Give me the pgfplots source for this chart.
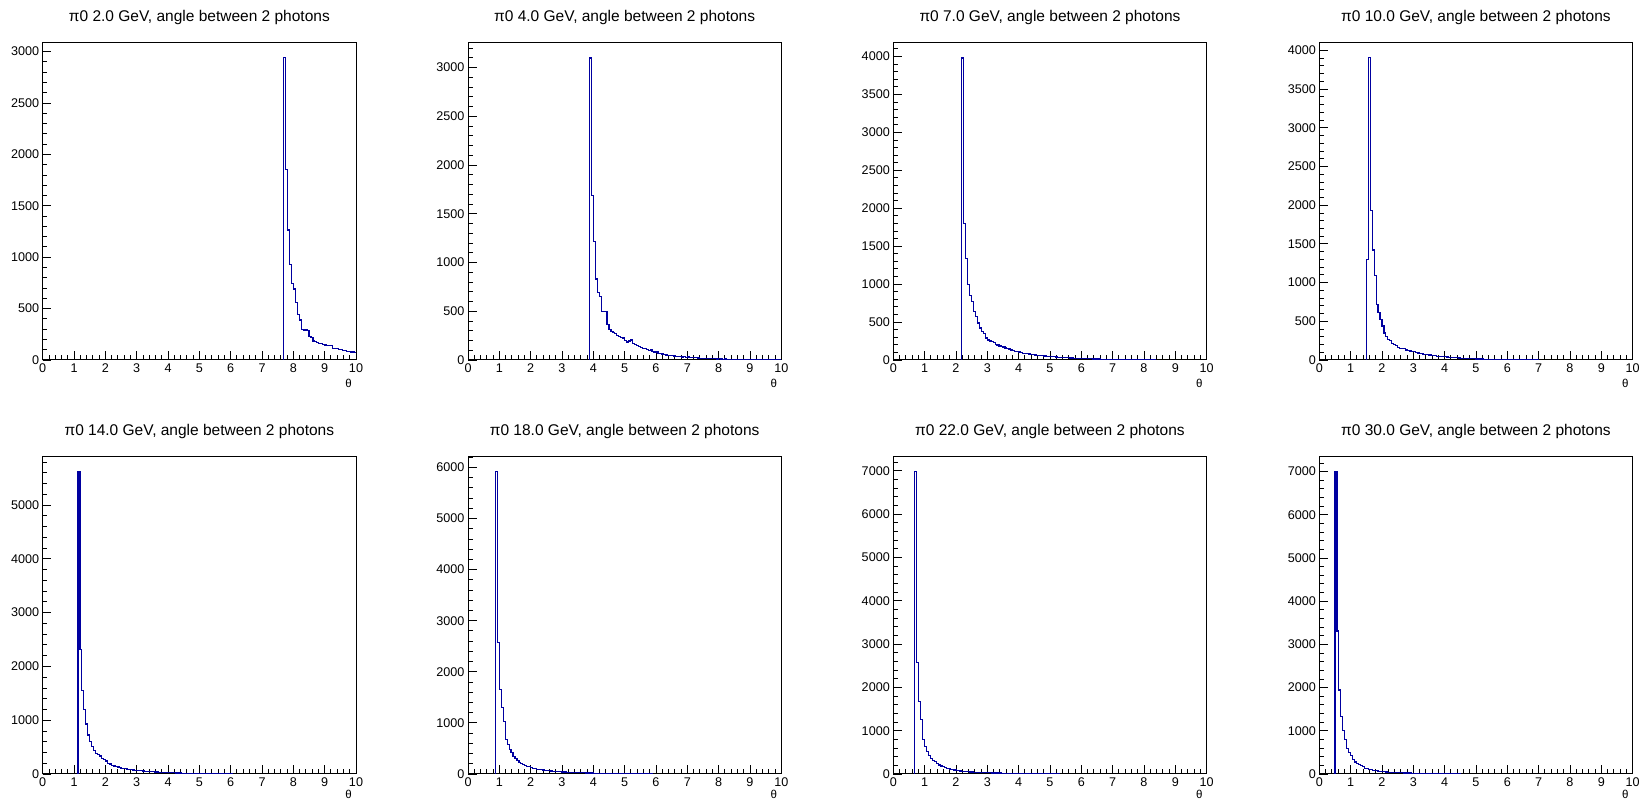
\documentclass[border=0pt]{standalone}
\usepackage{fontspec}
\setmainfont{Liberation Sans}
\usepackage{pgfplots}
\usepackage{pgfplotstable}
\pgfplotsset{compat=1.18}
\definecolor{histblue}{RGB}{0,0,160}

% opening-angle histograms (left bin edge, content), bin width 0.0625 deg
\pgfplotstableread[row sep=\\]{x y\\
7.6875 0\\ 7.6875 2940\\ 7.75 1850\\ 7.8125 1265\\ 7.875 930\\ 7.9375 746\\ 8.0 690\\ 8.0625 560\\ 8.125 440\\ 8.1875 389\\ 8.25 300\\ 8.3125 292\\ 8.375 295\\ 8.4375 290\\ 8.5 227\\ 8.5625 215\\ 8.625 185\\ 8.6875 178\\ 8.75 170\\ 8.8125 162\\ 8.875 160\\ 8.9375 150\\ 9.0 146\\ 9.0625 140\\ 9.125 139\\ 9.1875 140\\ 9.25 115\\ 9.3125 113\\ 9.375 108\\ 9.4375 104\\ 9.5 100\\ 9.5625 96\\ 9.625 90\\ 9.6875 84\\ 9.75 81\\ 9.8125 70\\ 9.875 80\\ 9.9375 75\\ 10 75\\
}\histA

\pgfplotstableread[row sep=\\]{x y\\
3.875 0\\ 3.875 3097\\ 3.9375 1690\\ 4.0 1215\\ 4.0625 830\\ 4.125 690\\ 4.1875 650\\ 4.25 500\\ 4.3125 495\\ 4.375 500\\ 4.4375 365\\ 4.5 310\\ 4.5625 290\\ 4.625 285\\ 4.6875 270\\ 4.75 255\\ 4.8125 240\\ 4.875 230\\ 4.9375 225\\ 5.0 200\\ 5.0625 185\\ 5.125 195\\ 5.1875 205\\ 5.25 170\\ 5.3125 155\\ 5.375 150\\ 5.4375 140\\ 5.5 125\\ 5.5625 120\\ 5.625 115\\ 5.6875 110\\ 5.75 100\\ 5.8125 105\\ 5.875 90\\ 5.9375 80\\ 6.0 85\\ 6.0625 70\\ 6.125 65\\ 6.1875 62\\ 6.25 58\\ 6.3125 52\\ 6.375 50\\ 6.4375 45\\ 6.5 42\\ 6.5625 40\\ 6.625 38\\ 6.6875 34\\ 6.75 36\\ 6.8125 30\\ 6.875 32\\ 6.9375 28\\ 7.0 30\\ 7.0625 25\\ 7.125 24\\ 7.1875 22\\ 7.25 23\\ 7.3125 20\\ 7.375 18\\ 7.4375 19\\ 7.5 16\\ 7.5625 17\\ 7.625 15\\ 7.6875 14\\ 7.75 15\\ 7.8125 12\\ 7.875 13\\ 7.9375 11\\ 8.0 12\\ 8.0625 10\\ 8.125 9\\ 8.1875 10\\ 8.25 8\\ 8.3125 9\\ 8.375 7\\ 8.4375 8\\ 8.5 6\\ 8.5625 7\\ 8.625 6\\ 8.6875 5\\ 8.75 6\\ 8.8125 5\\ 8.875 4\\ 8.9375 5\\ 9.0 4\\ 9.0625 5\\ 9.125 3\\ 9.1875 4\\ 9.25 3\\ 9.3125 4\\ 9.375 3\\ 9.4375 2\\ 9.5 3\\ 9.5625 2\\ 9.625 3\\ 9.6875 2\\ 9.75 2\\ 9.8125 1\\ 9.875 2\\ 9.9375 1\\ 10 1\\
}\histB

\pgfplotstableread[row sep=\\]{x y\\
2.1875 0\\ 2.1875 3980\\ 2.25 1800\\ 2.3125 1340\\ 2.375 990\\ 2.4375 850\\ 2.5 770\\ 2.5625 640\\ 2.625 572\\ 2.6875 488\\ 2.75 422\\ 2.8125 374\\ 2.875 352\\ 2.9375 290\\ 3.0 264\\ 3.0625 250\\ 3.125 240\\ 3.1875 232\\ 3.25 200\\ 3.3125 198\\ 3.375 185\\ 3.4375 176\\ 3.5 170\\ 3.5625 158\\ 3.625 154\\ 3.6875 145\\ 3.75 132\\ 3.8125 128\\ 3.875 115\\ 3.9375 110\\ 4.0 105\\ 4.0625 98\\ 4.125 90\\ 4.1875 88\\ 4.25 84\\ 4.3125 80\\ 4.375 72\\ 4.4375 68\\ 4.5 66\\ 4.5625 62\\ 4.625 60\\ 4.6875 56\\ 4.75 54\\ 4.8125 52\\ 4.875 50\\ 4.9375 47\\ 5.0 45\\ 5.0625 44\\ 5.125 42\\ 5.1875 40\\ 5.25 38\\ 5.3125 36\\ 5.375 35\\ 5.4375 32\\ 5.5 30\\ 5.5625 29\\ 5.625 27\\ 5.6875 26\\ 5.75 24\\ 5.8125 23\\ 5.875 22\\ 5.9375 21\\ 6.0 20\\ 6.0625 19\\ 6.125 18\\ 6.1875 17\\ 6.25 16\\ 6.3125 15\\ 6.375 14\\ 6.4375 13\\ 6.5 13\\ 6.5625 12\\ 6.625 11\\ 6.6875 10\\ 6.75 10\\ 6.8125 9\\ 6.875 9\\ 6.9375 8\\ 7.0 8\\ 7.0625 7\\ 7.125 7\\ 7.1875 6\\ 7.25 6\\ 7.3125 5\\ 7.375 5\\ 7.4375 5\\ 7.5 4\\ 7.5625 4\\ 7.625 4\\ 7.6875 3\\ 7.75 3\\ 7.8125 3\\ 7.875 2\\ 7.9375 2\\ 8.0 2\\ 8.0625 2\\ 8.125 1\\ 8.1875 2\\ 8.25 1\\ 8.3125 1\\ 8.375 0\\
}\histC

\pgfplotstableread[row sep=\\]{x y\\
1.5 0\\ 1.5 1300\\ 1.5625 3905\\ 1.625 1930\\ 1.6875 1420\\ 1.75 1090\\ 1.8125 720\\ 1.875 610\\ 1.9375 520\\ 2.0 440\\ 2.0625 350\\ 2.125 300\\ 2.1875 260\\ 2.25 250\\ 2.3125 215\\ 2.375 200\\ 2.4375 190\\ 2.5 160\\ 2.5625 150\\ 2.625 145\\ 2.6875 150\\ 2.75 130\\ 2.8125 125\\ 2.875 115\\ 2.9375 110\\ 3.0 105\\ 3.0625 95\\ 3.125 90\\ 3.1875 88\\ 3.25 80\\ 3.3125 75\\ 3.375 72\\ 3.4375 70\\ 3.5 65\\ 3.5625 62\\ 3.625 60\\ 3.6875 55\\ 3.75 50\\ 3.8125 48\\ 3.875 45\\ 3.9375 42\\ 4.0 40\\ 4.0625 38\\ 4.125 35\\ 4.1875 33\\ 4.25 30\\ 4.3125 31\\ 4.375 28\\ 4.4375 26\\ 4.5 24\\ 4.5625 22\\ 4.625 23\\ 4.6875 20\\ 4.75 18\\ 4.8125 17\\ 4.875 16\\ 4.9375 15\\ 5.0 14\\ 5.0625 13\\ 5.125 12\\ 5.1875 12\\ 5.25 10\\ 5.3125 10\\ 5.375 9\\ 5.4375 8\\ 5.5 8\\ 5.5625 7\\ 5.625 7\\ 5.6875 6\\ 5.75 6\\ 5.8125 5\\ 5.875 5\\ 5.9375 4\\ 6.0 4\\ 6.0625 4\\ 6.125 3\\ 6.1875 3\\ 6.25 3\\ 6.3125 2\\ 6.375 3\\ 6.4375 2\\ 6.5 2\\ 6.5625 2\\ 6.625 1\\ 6.6875 2\\ 6.75 1\\ 6.8125 1\\ 6.875 1\\ 6.9375 1\\ 7.0 0\\
}\histD

\pgfplotstableread[row sep=\\]{x y\\
1.125 0\\ 1.125 5620\\ 1.1875 2320\\ 1.25 1560\\ 1.3125 1200\\ 1.375 930\\ 1.4375 725\\ 1.5 600\\ 1.5625 510\\ 1.625 430\\ 1.6875 385\\ 1.75 360\\ 1.8125 335\\ 1.875 290\\ 1.9375 270\\ 2.0 240\\ 2.0625 200\\ 2.125 185\\ 2.1875 165\\ 2.25 150\\ 2.3125 140\\ 2.375 130\\ 2.4375 120\\ 2.5 105\\ 2.5625 100\\ 2.625 95\\ 2.6875 90\\ 2.75 80\\ 2.8125 78\\ 2.875 75\\ 2.9375 70\\ 3.0 64\\ 3.0625 60\\ 3.125 58\\ 3.1875 54\\ 3.25 50\\ 3.3125 48\\ 3.375 45\\ 3.4375 42\\ 3.5 40\\ 3.5625 38\\ 3.625 36\\ 3.6875 33\\ 3.75 32\\ 3.8125 30\\ 3.875 28\\ 3.9375 27\\ 4.0 25\\ 4.0625 24\\ 4.125 22\\ 4.1875 21\\ 4.25 20\\ 4.3125 18\\ 4.375 17\\ 4.4375 16\\ 4.5 15\\ 4.5625 14\\ 4.625 14\\ 4.6875 13\\ 4.75 12\\ 4.8125 11\\ 4.875 11\\ 4.9375 10\\ 5.0 9\\ 5.0625 9\\ 5.125 8\\ 5.1875 8\\ 5.25 7\\ 5.3125 7\\ 5.375 6\\ 5.4375 6\\ 5.5 5\\ 5.5625 5\\ 5.625 5\\ 5.6875 4\\ 5.75 4\\ 5.8125 4\\ 5.875 3\\ 5.9375 3\\ 6.0 3\\ 6.0625 0\\
}\histE

\pgfplotstableread[row sep=\\]{x y\\
0.875 0\\ 0.875 5915\\ 0.9375 2570\\ 1.0 1660\\ 1.0625 1300\\ 1.125 1020\\ 1.1875 670\\ 1.25 570\\ 1.3125 485\\ 1.375 420\\ 1.4375 340\\ 1.5 300\\ 1.5625 270\\ 1.625 230\\ 1.6875 210\\ 1.75 180\\ 1.8125 165\\ 1.875 145\\ 1.9375 140\\ 2.0 125\\ 2.0625 115\\ 2.125 105\\ 2.1875 95\\ 2.25 90\\ 2.3125 85\\ 2.375 80\\ 2.4375 72\\ 2.5 68\\ 2.5625 62\\ 2.625 58\\ 2.6875 55\\ 2.75 50\\ 2.8125 48\\ 2.875 45\\ 2.9375 42\\ 3.0 40\\ 3.0625 38\\ 3.125 36\\ 3.1875 34\\ 3.25 32\\ 3.3125 30\\ 3.375 29\\ 3.4375 27\\ 3.5 26\\ 3.5625 24\\ 3.625 23\\ 3.6875 22\\ 3.75 21\\ 3.8125 20\\ 3.875 19\\ 3.9375 18\\ 4.0 17\\ 4.0625 16\\ 4.125 15\\ 4.1875 15\\ 4.25 14\\ 4.3125 13\\ 4.375 13\\ 4.4375 12\\ 4.5 11\\ 4.5625 11\\ 4.625 10\\ 4.6875 10\\ 4.75 9\\ 4.8125 9\\ 4.875 8\\ 4.9375 8\\ 5.0 7\\ 5.0625 7\\ 5.125 6\\ 5.1875 6\\ 5.25 6\\ 5.3125 5\\ 5.375 5\\ 5.4375 5\\ 5.5 4\\ 5.5625 4\\ 5.625 4\\ 5.6875 3\\ 5.75 3\\ 5.8125 3\\ 5.875 0\\
}\histF

\pgfplotstableread[row sep=\\]{x y\\
0.6875 0\\ 0.6875 6975\\ 0.75 2570\\ 0.8125 1670\\ 0.875 1250\\ 0.9375 800\\ 1.0 630\\ 1.0625 520\\ 1.125 430\\ 1.1875 360\\ 1.25 310\\ 1.3125 280\\ 1.375 240\\ 1.4375 210\\ 1.5 185\\ 1.5625 170\\ 1.625 150\\ 1.6875 135\\ 1.75 120\\ 1.8125 105\\ 1.875 95\\ 1.9375 90\\ 2.0 80\\ 2.0625 75\\ 2.125 70\\ 2.1875 65\\ 2.25 60\\ 2.3125 56\\ 2.375 52\\ 2.4375 48\\ 2.5 45\\ 2.5625 42\\ 2.625 40\\ 2.6875 38\\ 2.75 36\\ 2.8125 34\\ 2.875 32\\ 2.9375 30\\ 3.0 28\\ 3.0625 27\\ 3.125 25\\ 3.1875 24\\ 3.25 23\\ 3.3125 22\\ 3.375 21\\ 3.4375 20\\ 3.5 19\\ 3.5625 18\\ 3.625 17\\ 3.6875 16\\ 3.75 15\\ 3.8125 15\\ 3.875 14\\ 3.9375 13\\ 4.0 12\\ 4.0625 12\\ 4.125 11\\ 4.1875 10\\ 4.25 10\\ 4.3125 9\\ 4.375 9\\ 4.4375 8\\ 4.5 8\\ 4.5625 7\\ 4.625 7\\ 4.6875 6\\ 4.75 6\\ 4.8125 5\\ 4.875 5\\ 4.9375 5\\ 5.0 4\\ 5.0625 4\\ 5.125 4\\ 5.1875 3\\ 5.25 3\\ 5.3125 0\\
}\histG

\pgfplotstableread[row sep=\\]{x y\\
0.5 0\\ 0.5 7000\\ 0.5625 3310\\ 0.625 1945\\ 0.6875 1330\\ 0.75 1000\\ 0.8125 790\\ 0.875 595\\ 0.9375 500\\ 1.0 420\\ 1.0625 330\\ 1.125 280\\ 1.1875 250\\ 1.25 225\\ 1.3125 190\\ 1.375 165\\ 1.4375 135\\ 1.5 120\\ 1.5625 110\\ 1.625 100\\ 1.6875 90\\ 1.75 80\\ 1.8125 72\\ 1.875 65\\ 1.9375 60\\ 2.0 55\\ 2.0625 50\\ 2.125 46\\ 2.1875 43\\ 2.25 40\\ 2.3125 37\\ 2.375 35\\ 2.4375 32\\ 2.5 30\\ 2.5625 28\\ 2.625 27\\ 2.6875 25\\ 2.75 24\\ 2.8125 22\\ 2.875 21\\ 2.9375 20\\ 3.0 19\\ 3.0625 18\\ 3.125 17\\ 3.1875 16\\ 3.25 15\\ 3.3125 14\\ 3.375 13\\ 3.4375 13\\ 3.5 12\\ 3.5625 11\\ 3.625 11\\ 3.6875 10\\ 3.75 9\\ 3.8125 9\\ 3.875 8\\ 3.9375 8\\ 4.0 7\\ 4.0625 7\\ 4.125 6\\ 4.1875 6\\ 4.25 5\\ 4.3125 5\\ 4.375 4\\ 4.4375 4\\ 4.5 0\\
}\histH

\pgfplotsset{
  rootpad/.style={
    scale only axis, width=313.3pt, height=317.3pt,
    anchor=south west,
    xmin=0, xmax=10, ymin=0,
    xtick={0,...,10},
    minor xtick={0,0.2,...,10},
    tick align=inside,
    tick pos=left,
    major tick length=8.5pt, minor tick length=4.5pt,
    axis line style={line width=1pt},
    every tick/.style={black, line width=0.9pt},
    ticklabel style={font=\fontsize{12.6}{14}\selectfont},
    /pgf/number format/assume math mode=true,
    /pgf/number format/1000 sep={},
    scaled y ticks=false,
    xlabel={θ},
    xlabel style={at={(axis description cs:1,0)}, anchor=north east,
      yshift=-19pt, xshift=-4pt, inner sep=0pt, font=\fontsize{11.5}{12}\selectfont},
    title style={at={(axis description cs:0.5,1)}, anchor=base,
      yshift=15pt, inner sep=0pt, font=\fontsize{15.5}{17}\selectfont},
  },
  toprow/.style={rootpad, ytick distance=500, minor ytick={0,100,...,4200}},
  botrow/.style={rootpad, ytick distance=1000, minor ytick={0,200,...,7400},
    xlabel style={yshift=3pt}},
  hist/.style={const plot, no marks, color=histblue, line width=1.2pt},
}

\begin{document}
\begin{tikzpicture}[x=1pt,y=1pt]
\useasboundingbox (0,0) rectangle (1641,800);

% top row
\begin{axis}[toprow, at={(42.7pt,440pt)}, ymax=3087,
  title={π0 2.0 GeV, angle between 2 photons}]
\addplot[hist] table {\histA};
\end{axis}
\begin{axis}[toprow, at={(468pt,440pt)}, ymax=3254,
  title={π0 4.0 GeV, angle between 2 photons}]
\addplot[hist] table {\histB};
\end{axis}
\begin{axis}[toprow, at={(893.3pt,440pt)}, ymax=4182,
  title={π0 7.0 GeV, angle between 2 photons}]
\addplot[hist] table {\histC};
\end{axis}
\begin{axis}[toprow, at={(1319.3pt,440pt)}, ymax=4100,
  title={π0 10.0 GeV, angle between 2 photons}]
\addplot[hist] table {\histD};
\end{axis}

% bottom row
\begin{axis}[botrow, at={(42.7pt,26pt)}, ymax=5900,
  title={π0 14.0 GeV, angle between 2 photons}]
\addplot[hist] table {\histE};
\end{axis}
\begin{axis}[botrow, at={(468pt,26pt)}, ymax=6210,
  title={π0 18.0 GeV, angle between 2 photons}]
\addplot[hist] table {\histF};
\end{axis}
\begin{axis}[botrow, at={(893.3pt,26pt)}, ymax=7323,
  title={π0 22.0 GeV, angle between 2 photons}]
\addplot[hist] table {\histG};
\end{axis}
\begin{axis}[botrow, at={(1319.3pt,26pt)}, ymax=7346,
  title={π0 30.0 GeV, angle between 2 photons}]
\addplot[hist] table {\histH};
\end{axis}
\end{tikzpicture}
\end{document}
